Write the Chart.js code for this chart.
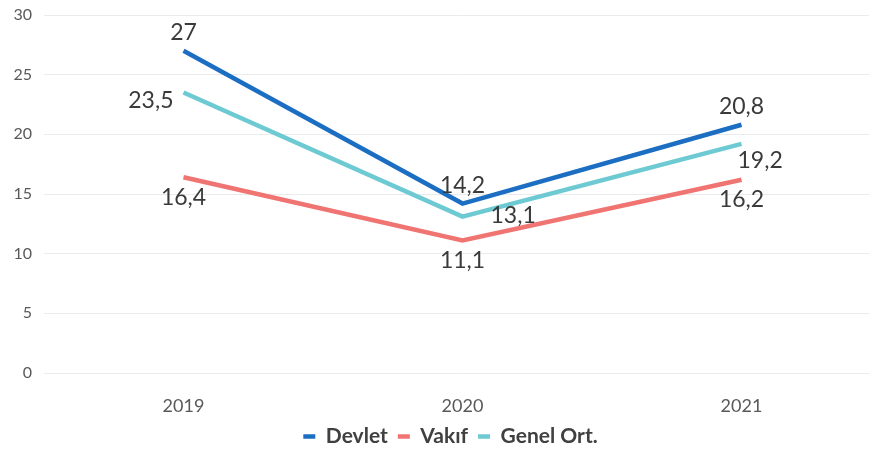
<!DOCTYPE html>
<html><head><meta charset="utf-8">
<script src="https://cdn.jsdelivr.net/npm/chart.js@4/dist/chart.umd.min.js"></script>
<style>html,body{margin:0;padding:0;background:#fff;overflow:hidden;width:869px;height:451px}</style>
</head><body>
<canvas id="c" width="900" height="457"></canvas>
<script>
const categories = ['2019', '2020', '2021'];
const devlet = [27, 14.2, 20.8];
const vakif = [16.4, 11.1, 16.2];
const genelOrt = [23.5, 13.1, 19.2];
const yTicks = [0, 5, 10, 15, 20, 25, 30];

const FONT = 'Lato, "Open Sans", sans-serif';

// label placement per series (style/config, not data)
const labelPos = {
  'Devlet': ['top', 'top', 'top'],
  'Vakıf': ['bottom', 'bottom', 'bottom'],
  'Genel Ort.': ['left', 'right', 'rightbelow']
};

const labelPlugin = {
  id: 'valueLabels',
  afterLayout(chart) {
    if (chart.legend) { chart.legend.left += 10; chart.legend.right += 10; }
  },
  afterDatasetsDraw(chart) {
    const ctx = chart.ctx;
    ctx.save();
    ctx.font = '23px ' + FONT;
    ctx.fillStyle = '#3a3a3a';
    ctx.textBaseline = 'middle';
    chart.data.datasets.forEach((ds, di) => {
      const meta = chart.getDatasetMeta(di);
      meta.data.forEach((pt, i) => {
        const txt = String(ds.data[i]).replace('.', ',');
        const pos = labelPos[ds.label][i];
        let x = pt.x, y = pt.y;
        ctx.textAlign = 'center';
        if (pos === 'top') { y -= 18; }
        else if (pos === 'bottom') { y += 20; }
        else if (pos === 'left') { ctx.textAlign = 'right'; x -= 10; y += 8; }
        else if (pos === 'right') { ctx.textAlign = 'left'; x += 28; y -= 1; }
        else if (pos === 'rightbelow') { ctx.textAlign = 'left'; x -= 4; y += 17; }
        ctx.fillText(txt, x, y);
      });
    });
    ctx.restore();
  }
};

new Chart(document.getElementById('c'), {
  type: 'line',
  data: {
    labels: categories,
    datasets: [
      { label: 'Devlet', data: devlet, borderColor: '#1B6EC2', backgroundColor: '#1B6EC2', borderWidth: 4.5, pointRadius: 0, tension: 0 },
      { label: 'Vakıf', data: vakif, borderColor: '#F07471', backgroundColor: '#F07471', borderWidth: 4.5, pointRadius: 0, tension: 0 },
      { label: 'Genel Ort.', data: genelOrt, borderColor: '#6DCAD2', backgroundColor: '#6DCAD2', borderWidth: 4.5, pointRadius: 0, tension: 0 }
    ]
  },
  options: {
    responsive: false,
    animation: false,
    layout: { padding: { top: 15, right: 19, left: 0, bottom: 0 } },
    scales: {
      x: {
        offset: true,
        afterFit(axis) { axis.height = 43; axis.paddingLeft = 0; axis.paddingRight = 0; },
        grid: { display: false, drawTicks: false },
        border: { display: false },
        ticks: { color: '#595959', font: { family: FONT, size: 18 }, padding: 22 }
      },
      y: {
        min: 0, max: 30,
        afterBuildTicks(axis) { axis.ticks = yTicks.map(v => ({ value: v })); },
        afterFit(axis) { axis.width = 44; axis.paddingTop = 0; axis.paddingBottom = 0; },
        grid: { color: '#ebebeb', lineWidth: 1, drawTicks: false },
        border: { display: false },
        ticks: { color: '#595959', font: { family: FONT, size: 16 }, padding: 12 }
      }
    },
    plugins: {
      tooltip: { enabled: false },
      legend: {
        position: 'bottom',
        labels: {
          usePointStyle: true,
          pointStyle: 'line',
          pointStyleWidth: 12,
          boxWidth: 6,
          boxHeight: 12,
          padding: 10,
          color: '#404040',
          font: { family: FONT, size: 21, weight: 'bold' }
        }
      }
    }
  },
  plugins: [labelPlugin]
});
</script>
</body></html>
